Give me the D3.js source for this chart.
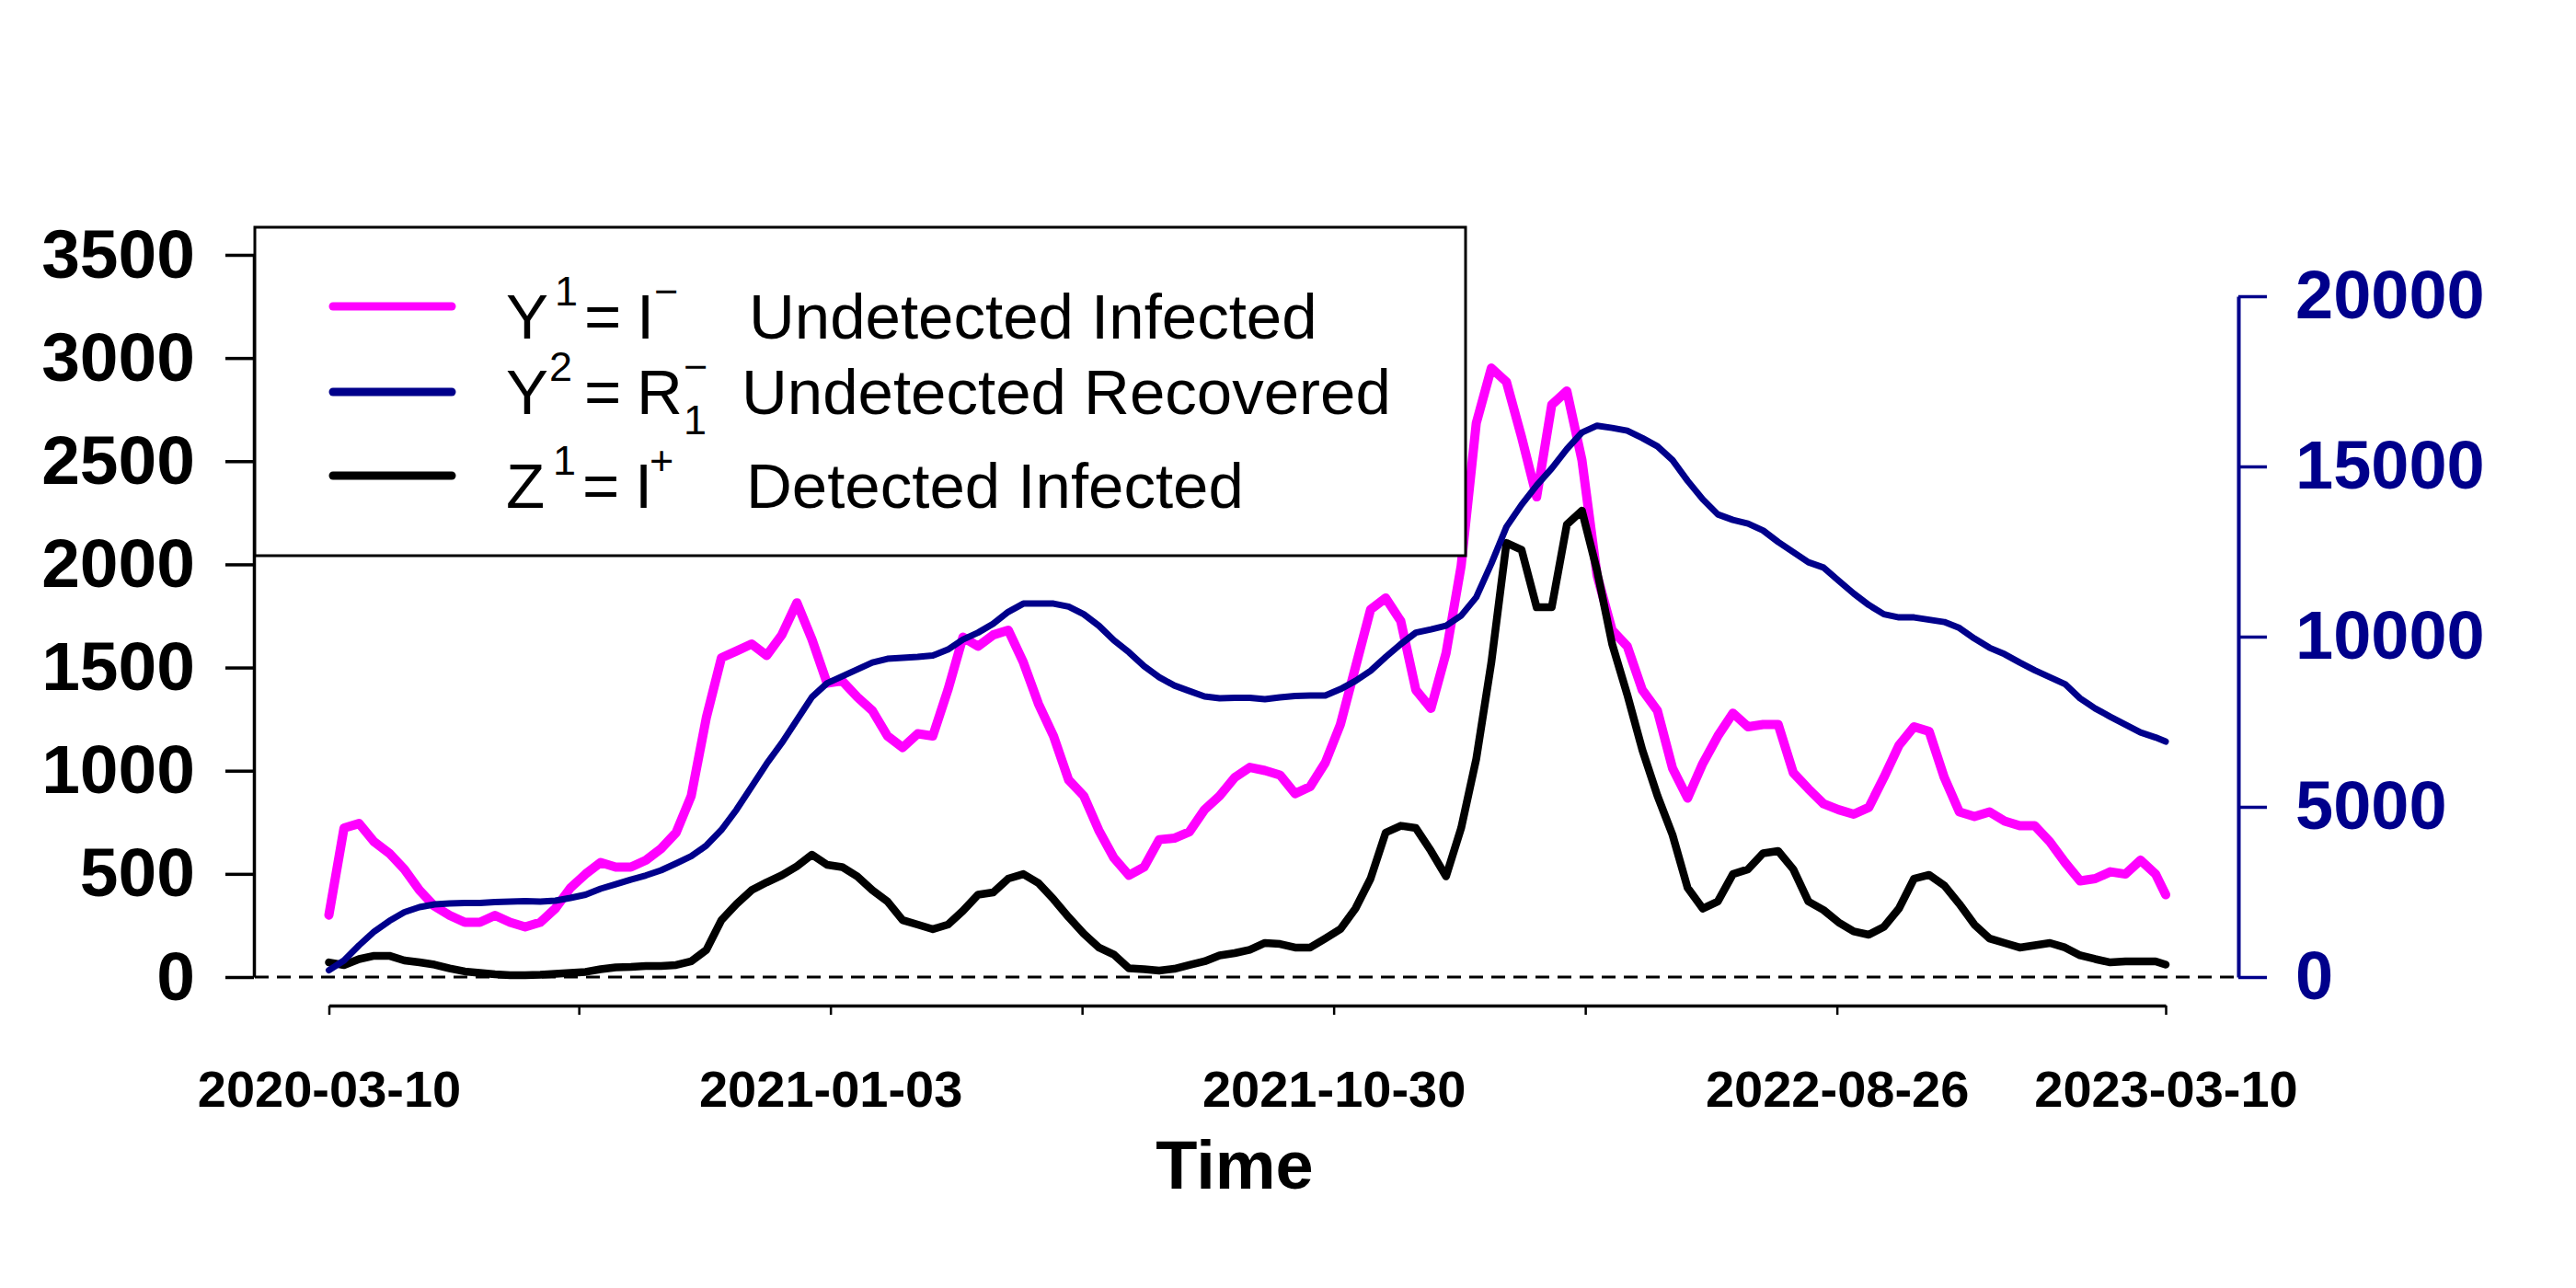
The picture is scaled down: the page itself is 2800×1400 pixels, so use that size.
<!DOCTYPE html>
<html><head><meta charset="utf-8">
<script src="https://cdn.jsdelivr.net/npm/d3@7"></script>
<style>body{margin:0;background:#fff} svg{display:block} text{font-family:"Liberation Sans",Arial,sans-serif}</style>
</head><body>
<svg id="chart" width="2800" height="1400"></svg>
<script>
// ---------------- data ----------------
const startDate = "2020-03-10";
const dayOffsets = [0,9,18,27,36,45,54,63,72,81,90,99,108,117,126,135,144,153,162,171,180,189,198,207,
216,225,234,243,252,261,270,279,288,297,306,315,324,333,342,351,360,369,378,387,396,405,414,423,432,
441,450,459,468,477,486,495,504,513,522,531,540,549,558,567,576,585,594,603,612,621,630,639,648,657,
666,675,684,693,702,711,720,729,738,747,756,765,774,783,792,801,810,819,828,837,846,855,864,873,882,
891,900,909,918,927,936,945,954,963,972,981,990,999,1008,1017,1026,1035,1044,1053,1062,1071,1080,1089,1095];
const undetectedInfected = [300,722,744,655,600,522,421,343,299,265,265,299,265,243,265,332,432,499,555,533,533,566,622,700,
878,1257,1547,1580,1614,1558,1658,1814,1636,1424,1435,1357,1291,1168,1112,1179,1168,1391,1647,1603,1658,1681,1525,1324,1168,
955,878,711,577,493,533,666,673,704,811,878,967,1016,1001,979,889,923,1039,1224,1502,1781,1837,1725,1391,1302,
1570,1993,2684,2951,2884,2617,2327,2773,2840,2505,1948,1681,1603,1391,1291,1012,867,1034,1168,1279,1213,1224,1224,990,912,
840,811,789,822,967,1123,1213,1190,967,800,778,800,756,733,733,655,555,466,477,510,499,566,499,399];
const undetectedRecovered = [200,486,932,1337,1648,1905,2054,2135,2162,2175,2175,2202,2216,2229,2216,2243,2324,2418,2594,2729,2864,2986,3134,3337,
3550,3864,4323,4918,5593,6269,6877,7552,8228,8633,8836,9038,9241,9349,9376,9403,9443,9619,9916,10119,10376,10727,10970,10970,10970,
10880,10659,10321,9889,9538,9133,8809,8565,8403,8241,8187,8200,8200,8160,8214,8255,8268,8268,8457,8700,8998,9403,9781,10119,10213,
10321,10619,11159,12145,13226,13875,14442,14942,15509,15996,16198,16131,16050,15834,15590,15185,14577,14037,13591,13429,13321,13118,12780,12483,12186,
12030,11646,11267,10930,10659,10565,10565,10497,10430,10254,9943,9673,9484,9241,9011,8809,8606,8187,7890,7647,7417,7187,7039,6917];
const detectedInfected = [71,58,87,103,103,80,71,60,42,27,20,13,9,9,11,16,20,25,38,47,49,53,53,58,
76,131,276,354,421,459,493,537,593,544,533,488,421,366,276,254,232,254,321,399,410,477,499,455,377,
290,210,143,109,42,38,31,40,58,76,105,116,132,165,160,143,143,187,232,332,477,700,733,722,611,
488,722,1057,1525,2104,2071,1792,1792,2193,2260,1970,1614,1369,1101,879,689,432,332,366,499,522,600,611,522,366,
325,265,221,205,243,332,477,495,444,354,254,187,165,143,154,165,143,105,87,71,76,76,76,60];
const leftTicks = [0,500,1000,1500,2000,2500,3000,3500];
const rightTicks = [0,5000,10000,15000,20000];
const xTickDates = ["2020-03-10","2020-08-06","2021-01-03","2021-06-02","2021-10-30","2022-03-29","2022-08-26","2023-03-10"];
const xTickLabels = ["2020-03-10","","2021-01-03","","2021-10-30","","2022-08-26","2023-03-10"];
const xTitle = "Time";
const legendLabels = ["Undetected Infected","Undetected Recovered","Detected Infected"];

// ---------------- setup ----------------
const MAG = "#FF00FF", NAVY = "#00008B", BLK = "#000000";
const svg = d3.select("#chart");
const parse = d3.utcParse("%Y-%m-%d");
const t0 = parse(startDate);
const dates = dayOffsets.map(d => d3.utcDay.offset(t0, d));
const tickDates = xTickDates.map(parse);

const x = d3.scaleUtc().domain([t0, tickDates[tickDates.length-1]]).range([357.5, 2354]);
const yL = d3.scaleLinear().domain([0, 3500]).range([1062, 277]);
const yR = d3.scaleLinear().domain([0, 20000]).range([1062, 322]);

svg.append("rect").attr("width",2800).attr("height",1400).attr("fill","#fff");

// zero dashed line
svg.append("line").attr("x1",277).attr("x2",2433).attr("y1",yL(0)).attr("y2",yL(0))
  .attr("stroke","#000").attr("stroke-width",3).attr("stroke-dasharray","15,9");

// lines
const lineL = d3.line().x((d,i)=>x(dates[i])).y(d=>yL(d));
const lineR = d3.line().x((d,i)=>x(dates[i])).y(d=>yR(d));
svg.append("path").datum(undetectedInfected).attr("d",lineL).attr("fill","none")
  .attr("stroke",MAG).attr("stroke-width",10).attr("stroke-linejoin","round").attr("stroke-linecap","round");
svg.append("path").datum(detectedInfected).attr("d",lineL).attr("fill","none")
  .attr("stroke",BLK).attr("stroke-width",8.5).attr("stroke-linejoin","round").attr("stroke-linecap","round");
svg.append("path").datum(undetectedRecovered).attr("d",lineR).attr("fill","none")
  .attr("stroke",NAVY).attr("stroke-width",7).attr("stroke-linejoin","round").attr("stroke-linecap","round");

// axes
function styleAxis(g, fs, color, dw, tw){
  g.attr("font-family",'"Liberation Sans",Arial,sans-serif').attr("font-size",fs).attr("font-weight","bold").attr("color",color);
  g.select(".domain").attr("stroke-width",dw);
  g.selectAll(".tick line").attr("stroke-width",tw);
}
const gL = svg.append("g").attr("transform","translate(276,0)")
  .call(d3.axisLeft(yL).tickValues(leftTicks).tickSize(31).tickSizeOuter(0).tickPadding(33).tickFormat(d3.format("d")));
styleAxis(gL, 75, BLK, 3.5, 3.5);
const gR = svg.append("g").attr("transform","translate(2433,0)")
  .call(d3.axisRight(yR).tickValues(rightTicks).tickSize(31).tickSizeOuter(0).tickPadding(31).tickFormat(d3.format("d")));
styleAxis(gR, 74, NAVY, 4, 3.5);
const gB = svg.append("g").attr("transform","translate(0,1093)")
  .call(d3.axisBottom(x).tickValues(tickDates).tickSize(10).tickSizeOuter(0).tickPadding(60)
    .tickFormat((d,i)=>xTickLabels[i]));
styleAxis(gB, 56, BLK, 3.5, 2.5);

svg.append("text").attr("x",1342).attr("y",1292).attr("text-anchor","middle")
  .attr("font-size",74).attr("font-weight","bold").text(xTitle);

// legend
const lg = svg.append("g");
lg.append("rect").attr("x",277).attr("y",247).attr("width",1316).attr("height",357)
  .attr("fill","#fff").attr("stroke","#000").attr("stroke-width",3);
const rows = [
  {color:MAG, ly:333, yb:368, main:"Y", sup:"1", rhs:"I", rsup:"\u2212", rsub:null, lx:814, supX:603, eqX:635, rX:692, rsupX:711},
  {color:NAVY, ly:426, yb:450, main:"Y", sup:"2", rhs:"R", rsup:"\u2212", rsub:"1", lx:806, supX:597, eqX:635, rX:692, rsupX:743},
  {color:BLK, ly:517, yb:552, main:"Z", sup:"1", rhs:"I", rsup:"+", rsub:null, lx:811, supX:601, eqX:633, rX:690, rsupX:706}
];
rows.forEach((r,i)=>{
  lg.append("line").attr("x1",362).attr("x2",491).attr("y1",r.ly).attr("y2",r.ly)
    .attr("stroke",r.color).attr("stroke-width",9).attr("stroke-linecap","round");
  const t = (xx,yy,s,fs)=>lg.append("text").attr("x",xx).attr("y",yy).attr("font-size",fs).text(s);
  t(550, r.yb, r.main, 69);
  t(r.supX, r.yb-36, r.sup, 45);
  t(r.eqX, r.yb, "=", 69);
  t(r.rX, r.yb, r.rhs, 69);
  t(r.rsupX, r.yb-36, r.rsup, 45);
  if (r.rsub) t(743, r.yb+22, r.rsub, 45);
  t(r.lx, r.yb, legendLabels[i], 69);
});
</script>
</body></html>
